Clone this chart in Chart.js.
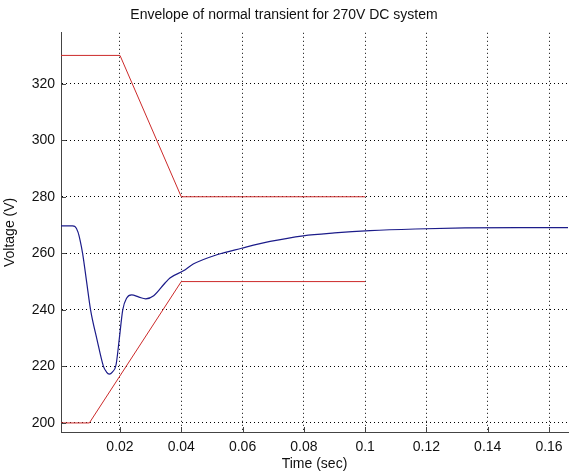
<!DOCTYPE html>
<html>
<head>
<meta charset="utf-8">
<script src="https://cdn.jsdelivr.net/npm/chart.js@4/dist/chart.umd.min.js"></script>
<style>
  html, body { margin: 0; padding: 0; background: #fff; }
  #wrap { width: 570px; height: 476px; }
</style>
</head>
<body>
<div id="wrap"><canvas id="chart"></canvas></div>
<script>
// data
const xTicks = [0.02, 0.04, 0.06, 0.08, 0.1, 0.12, 0.14, 0.16];
const yTicks = [200, 220, 240, 260, 280, 300, 320];

const upperT = [0, 0.02, 0.04, 0.1];
const upperV = [330, 330, 280, 280];
const lowerT = [0, 0.01, 0.04, 0.1];
const lowerV = [200, 200, 250, 250];

const voltT = [0, 0.0045, 0.0053, 0.0063, 0.007, 0.0078, 0.0091, 0.0104, 0.0125, 0.0146, 0.0156,
  0.0165, 0.0175, 0.0187, 0.0198, 0.0209, 0.0222, 0.0238, 0.0262, 0.0284, 0.031, 0.0347,
  0.0363, 0.0407, 0.0439, 0.0516, 0.0597, 0.069, 0.0798, 0.09, 0.1016, 0.1163, 0.1326, 0.15, 0.167];
const voltV = [269.7, 269.7, 269.5, 267.5, 264.5, 260, 250, 240, 229.5, 220, 218,
  217.3, 218, 220.5, 230, 240, 244.2, 245.3, 244.5, 243.9, 245, 249.5,
  251.3, 253.8, 256.2, 259.5, 261.8, 264.2, 266.2, 267.2, 268, 268.6, 269.0, 269.1, 269.1];

function pts(t, v) {
  return t.map((x, i) => ({x: x, y: v[i]}));
}

const font = {family: '"Liberation Sans", Arial, sans-serif', size: 14};

// MATLAB style inward tick marks
const innerTicks = {
  id: 'innerTicks',
  afterDatasetsDraw(chart) {
    const c = chart.ctx, a = chart.chartArea;
    const xs = chart.scales.x, ys = chart.scales.y;
    c.save();
    c.strokeStyle = '#444';
    c.lineWidth = 1;
    c.beginPath();
    xTicks.forEach(v => {
      const px = Math.round(xs.getPixelForValue(v)) + 0.5;
      c.moveTo(px, a.bottom);
      c.lineTo(px, a.bottom - 5);
    });
    yTicks.forEach(v => {
      const py = Math.round(ys.getPixelForValue(v)) + 0.5;
      c.moveTo(a.left, py);
      c.lineTo(a.left + 5, py);
    });
    c.stroke();
    c.restore();
  }
};

new Chart(document.getElementById('chart'), {
  type: 'line',
  data: {
    datasets: [
      {data: pts(upperT, upperV), borderColor: '#cc2a2a', borderWidth: 1, pointRadius: 0, tension: 0},
      {data: pts(lowerT, lowerV), borderColor: '#cc2a2a', borderWidth: 1, pointRadius: 0, tension: 0},
      {data: pts(voltT, voltV), borderColor: '#1c1c8a', borderWidth: 1.2, pointRadius: 0,
        cubicInterpolationMode: 'monotone'}
    ]
  },
  options: {
    responsive: true,
    maintainAspectRatio: false,
    animation: false,
    layout: {padding: {left: 0, right: 2, top: 0, bottom: 0}},
    plugins: {
      legend: {display: false},
      tooltip: {enabled: false},
      title: {
        display: true,
        text: 'Envelope of normal transient for 270V DC system',
        color: '#111',
        font: {family: font.family, size: 14, weight: 'normal'},
        padding: {top: 7, bottom: 9}
      }
    },
    scales: {
      x: {
        type: 'linear',
        min: 0.00075,
        max: 0.1662,
        afterBuildTicks: s => { s.ticks = xTicks.map(v => ({value: v})); },
        afterFit: s => { s.height = 44; },
        border: {display: true, color: '#444', width: 1, dash: [1, 3]},
        grid: {color: '#000', drawTicks: false, lineWidth: 1},
        ticks: {color: '#111', font: font, padding: 7, maxRotation: 0,
          callback: v => String(v)},
        title: {display: true, text: 'Time (sec)', color: '#111', font: font, padding: 3}
      },
      y: {
        min: 196.8,
        max: 338,
        afterBuildTicks: s => { s.ticks = yTicks.map(v => ({value: v})); },
        afterFit: s => { s.width = 61; },
        border: {display: true, color: '#444', width: 1, dash: [1, 3]},
        grid: {color: '#000', drawTicks: false, lineWidth: 1},
        ticks: {color: '#111', font: font, padding: 6},
        title: {display: true, text: 'Voltage (V)', color: '#111', font: font, padding: 2}
      }
    }
  },
  plugins: [innerTicks]
});
</script>
</body>
</html>
